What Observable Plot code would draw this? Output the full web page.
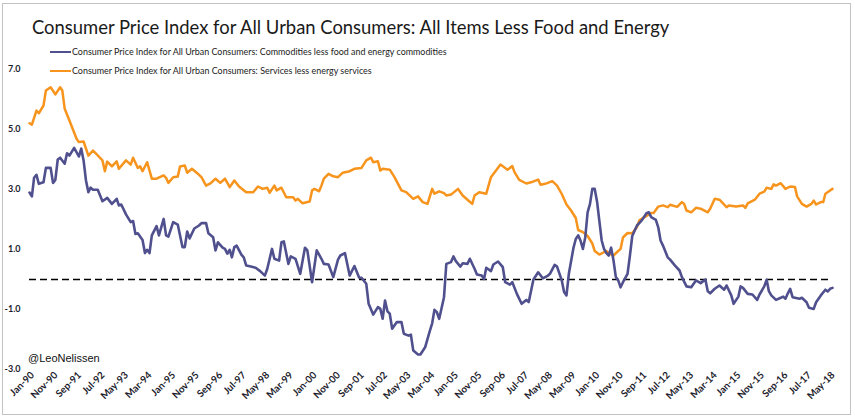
<!DOCTYPE html>
<html>
<head>
<meta charset="utf-8">
<script src="https://cdn.jsdelivr.net/npm/d3@7"></script>
<script src="https://cdn.jsdelivr.net/npm/@observablehq/plot@0.6"></script>
<style>
  body { margin: 0; background: #fff; }
  #wrap { position: relative; width: 855px; height: 420px; background: #fff; overflow: hidden; font-family: Lato, "Open Sans", sans-serif; }
  #frame { position: absolute; left: 2px; top: 3px; width: 847px; height: 410px; border: 1.5px solid #c3c3c3; }
  #title { position: absolute; left: 32px; top: 17px; font-size: 20px; line-height: 20px; color: #1a1a1a; white-space: nowrap; }
  #chart { position: absolute; left: 0; top: 40px; }
  .leg { position: absolute; left: 50px; font-size: 9px; line-height: 10px; color: #222; white-space: nowrap; display: flex; align-items: center; }
  .leg .sw { display: inline-block; width: 21px; height: 2.5px; margin-right: 1px; }
  #credit { position: absolute; left: 28px; top: 352px; font-family: "Liberation Sans", Arial, sans-serif; font-size: 11px; line-height: 12px; color: #111; }
</style>
</head>
<body>
<div id="wrap">
  <div id="frame"></div>
  <div id="title"></div>
  <div id="chart"></div>
  <div class="leg" id="leg1" style="top:47px"><span class="sw" id="sw1"></span><span class="lt" id="lt1"></span></div>
  <div class="leg" id="leg2" style="top:66px"><span class="sw" id="sw2"></span><span class="lt" id="lt2"></span></div>
  <div id="credit"></div>
</div>
<script>
// ---- text ----
const titleText = "Consumer Price Index for All Urban Consumers: All Items Less Food and Energy";
const seriesNames = [
  "Consumer Price Index for All Urban Consumers: Commodities less food and energy commodities",
  "Consumer Price Index for All Urban Consumers: Services less energy services"
];
const seriesColors = ["#50508e", "#f7941d"];
const creditText = "@LeoNelissen";

// ---- data: [months since Jan-1990, % y/y] ----
const commodities = [
[0,2.9],[1,2.77],[2,3.39],[3,3.49],[4,3.19],[6,3.24],[7,3.72],[9,3.72],[10,3.22],[11,3.32],
[12,4.0],[13,4.06],[15,3.86],[16,4.21],[17,4.13],[19,4.39],[21,4.1],[22,4.36],[23,3.97],[24,3.3],
[25,2.91],[26,3.06],[27,2.99],[29,2.99],[31,2.61],[33,2.72],[35,2.52],[37,2.69],[38,2.47],[39,2.5],
[41,2.17],[43,1.91],[44,1.95],[45,1.52],[46,1.54],[48,1.32],[49,0.88],[50,0.99],[51,0.88],[52,1.47],
[54,1.78],[55,1.47],[57,2.02],[58,1.47],[59,1.43],[61,1.91],[63,1.83],[65,1.08],[66,1.08],[67,1.6],
[68,1.37],[70,1.7],[72,1.8],[73,1.88],[75,1.88],[76,1.54],[78,1.41],[79,0.97],[80,1.24],[82,1.06],
[83,1.02],[84,0.86],[85,0.99],[86,0.74],[87,1.08],[88,1.13],[90,0.83],[91,0.74],[92,0.47],[94,0.43],
[96,0.39],[98,0.28],[100,0.13],[101,0.36],[103,1.02],[104,0.69],[106,0.63],[107,1.24],[108,1.27],[110,0.52],
[111,0.77],[113,0.69],[115,0.19],[117,1.06],[118,0.97],[120,-0.09],[122,0.97],[124,0.69],[125,0.52],[127,0.5],
[129,0.08],[131,0.66],[132,0.8],[134,0.88],[136,0.13],[138,0.45],[140,0.06],[141,0.06],[143,-0.14],[144,-0.81],
[146,-1.17],[148,-0.92],[149,-0.98],[150,-1.31],[151,-0.7],[152,-1.06],[153,-1.14],[154,-1.64],[156,-1.42],[158,-1.42],
[159,-1.81],[161,-1.87],[162,-1.84],[163,-2.37],[165,-2.5],[166,-2.5],[168,-2.26],[170,-1.72],[171,-1.46],[172,-1.01],
[173,-1.09],[174,-1.31],[176,-0.59],[177,0.52],[179,0.58],[180,0.77],[181,0.61],[183,0.43],[184,0.54],[186,0.52],
[187,0.69],[189,0.36],[190,0.17],[192,0.13],[193,0.02],[194,0.39],[196,0.28],[197,0.5],[199,0.6],[201,0.41],
[202,-0.09],[204,-0.17],[205,-0.09],[207,-0.48],[209,-0.81],[211,-0.68],[212,-0.75],[214,0.0],[216,0.24],[218,0.04],
[220,0.12],[221,0.19],[223,0.49],[224,0.43],[226,-0.03],[227,-0.42],[228,-0.53],[229,0.2],[231,1.05],[232,1.35],
[233,1.47],[234,1.3],[235,1.02],[236,1.41],[237,2.24],[238,2.52],[239,3.02],[240,3.02],[241,2.58],[242,1.97],
[243,1.3],[244,1.02],[245,0.88],[246,0.8],[247,1.06],[248,0.63],[249,0.08],[250,-0.03],[251,-0.26],[252,-0.09],
[254,0.19],[255,0.8],[256,1.45],[258,1.8],[260,1.97],[262,2.21],[263,2.24],[264,2.08],[266,1.99],[267,1.74],
[268,1.3],[269,1.13],[271,0.74],[272,0.66],[274,0.47],[276,0.3],[277,0.08],[279,-0.23],[281,-0.26],[283,-0.03],
[285,-0.12],[287,0.0],[288,-0.39],[289,-0.46],[291,-0.31],[293,-0.2],[295,-0.34],[296,-0.2],[298,-0.53],[299,-0.81],
[301,-0.57],[302,-0.23],[303,-0.28],[305,-0.48],[307,-0.5],[309,-0.68],[310,-0.5],[312,-0.23],[313,-0.01],[314,-0.39],
[315,-0.53],[317,-0.68],[319,-0.61],[320,-0.57],[321,-0.64],[322,-0.46],[323,-0.31],[324,-0.59],[327,-0.64],[328,-0.61],
[330,-0.76],[331,-0.94],[333,-0.98],[334,-0.76],[336,-0.53],[338,-0.34],[339,-0.4],[340,-0.31],[341,-0.28]
];
const services = [
[0,5.21],[1,5.16],[3,5.63],[4,5.54],[6,5.8],[7,6.3],[9,6.41],[11,6.17],[13,6.41],[14,6.3],
[15,5.69],[17,5.3],[20,4.69],[21,4.58],[23,4.6],[25,4.13],[27,4.3],[31,3.97],[32,3.61],[33,3.93],
[35,3.77],[37,3.94],[38,3.69],[41,3.97],[43,3.83],[44,4.06],[46,3.72],[47,3.77],[48,3.61],[50,3.91],
[52,3.36],[54,3.36],[57,3.47],[58,3.39],[59,3.22],[61,3.41],[63,3.43],[64,3.77],[66,3.8],[67,3.56],
[69,3.69],[71,3.56],[73,3.41],[75,3.13],[77,3.21],[79,3.36],[81,3.22],[83,3.36],[85,3.08],[87,3.3],
[89,3.1],[92,2.91],[95,2.91],[97,3.1],[99,3.02],[101,3.06],[102,2.89],[104,3.13],[105,2.97],[107,3.06],
[109,2.74],[112,2.74],[113,2.63],[114,2.69],[116,2.54],[119,2.6],[120,2.97],[121,3.02],[123,2.94],[124,3.13],
[125,3.36],[127,3.52],[129,3.44],[131,3.41],[133,3.56],[136,3.61],[138,3.69],[141,3.72],[143,3.97],[145,4.06],
[146,3.91],[148,3.94],[149,3.63],[150,3.69],[153,3.66],[155,3.41],[158,2.97],[160,2.91],[163,2.69],[165,2.77],
[167,2.58],[169,2.52],[171,3.02],[172,2.86],[174,2.94],[176,2.88],[177,2.8],[179,2.83],[182,3.02],[184,2.8],
[186,2.66],[188,2.52],[189,2.8],[191,2.91],[194,2.86],[196,3.41],[197,3.52],[200,3.83],[203,3.66],[205,3.78],
[206,3.58],[208,3.32],[211,3.2],[213,3.24],[216,3.33],[217,3.16],[219,3.19],[222,3.28],[224,3.13],[226,2.85],
[228,2.5],[230,2.3],[232,2.05],[233,1.65],[235,1.58],[237,1.45],[239,1.2],[240,0.95],[242,0.83],[245,0.95],
[246,0.88],[248,0.8],[250,0.95],[251,1.02],[252,1.4],[254,1.55],[256,1.54],[258,1.75],[259,1.97],[262,2.12],
[264,2.22],[265,2.22],[267,2.43],[269,2.47],[271,2.41],[272,2.49],[275,2.42],[277,2.58],[278,2.52],[279,2.3],
[281,2.24],[283,2.39],[285,2.36],[288,2.24],[289,2.36],[291,2.69],[293,2.66],[296,2.41],[297,2.47],[300,2.43],
[303,2.47],[304,2.39],[305,2.54],[308,2.66],[310,2.86],[312,2.93],[313,3.06],[315,3.02],[316,3.17],[317,3.13],
[319,3.21],[321,3.02],[323,3.1],[325,3.08],[326,2.77],[328,2.52],[330,2.43],[332,2.52],[333,2.63],[334,2.5],
[336,2.58],[337,2.58],[338,2.86],[340,2.97],[341,3.02]
];
const yTicks = [-3, -1, 1, 3, 5, 7];
const xTickMonths = d3.range(0, 341, 10); // Jan-90, Nov-90, ... May-18
const firstMonth = 0, lastMonth = 341;

// ---- build ----
const toDate = m => new Date(Date.UTC(1990, m, 1));
const rows = (arr, name) => arr.map(([m, v]) => ({date: toDate(m), value: v, series: name}));

document.getElementById("title").textContent = titleText;
document.getElementById("lt1").textContent = seriesNames[0];
document.getElementById("lt2").textContent = seriesNames[1];
document.getElementById("sw1").style.background = seriesColors[0];
document.getElementById("sw2").style.background = seriesColors[1];
document.getElementById("credit").textContent = creditText;

const chart = Plot.plot({
  width: 855,
  height: 372,
  marginLeft: 29,
  marginRight: 23,
  marginTop: 29,
  marginBottom: 43,
  style: {fontFamily: "Lato, 'Open Sans', sans-serif", background: "transparent", overflow: "visible"},
  x: {type: "utc", domain: [toDate(firstMonth), toDate(lastMonth)]},
  y: {domain: [-3, 7]},
  marks: [
    Plot.axisY({ticks: yTicks, tickFormat: d => d.toFixed(1), tickSize: 0, tickPadding: 9, label: null,
                fontWeight: "bold", fontSize: 9, fill: "#1c1c2c"}),
    Plot.axisX({ticks: xTickMonths.map(toDate), tickFormat: d3.utcFormat("%b-%y"), tickRotate: -45,
                tickSize: 0, tickPadding: 4, dx: 3, label: null,
                fontWeight: "bold", fontSize: 9.8, fill: "#1c1c2c"}),
    Plot.ruleY([0], {stroke: "#000", strokeWidth: 1.3, strokeDasharray: "7,4"}),
    Plot.lineY(rows(services, seriesNames[1]), {x: "date", y: "value", stroke: seriesColors[1], strokeWidth: 2.5}),
    Plot.lineY(rows(commodities, seriesNames[0]), {x: "date", y: "value", stroke: seriesColors[0], strokeWidth: 2.6})
  ]
});
document.getElementById("chart").appendChild(chart);

// fit text widths to the reference's measured extents
function fitWidth(el, target) {
  const w = el.getBoundingClientRect().width;
  const fs = parseFloat(getComputedStyle(el).fontSize);
  el.style.fontSize = (fs * target / w) + "px";
}
fitWidth(document.getElementById("title"), 638);
fitWidth(document.getElementById("lt1"), 375);
fitWidth(document.getElementById("lt2"), 300);
</script>
</body>
</html>
